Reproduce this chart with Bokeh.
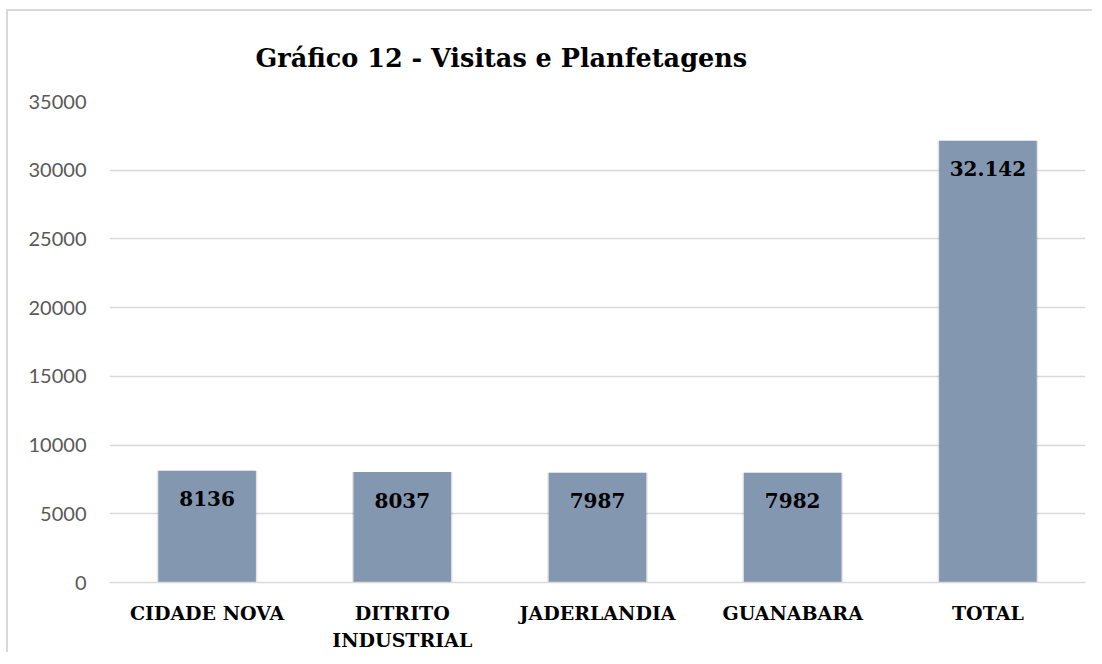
from bokeh.plotting import figure
from bokeh.models import ColumnDataSource, FixedTicker, NumeralTickFormatter, Title
from bokeh.core.properties import value
from bokeh.embed import file_html
from bokeh.resources import INLINE

categories = ["CIDADE NOVA", "DITRITO\nINDUSTRIAL", "JADERLANDIA", "GUANABARA", "TOTAL"]
values = [8136, 8037, 7987, 7982, 32142]
labels = ["8136", "8037", "7987", "7982", "32.142"]
y_ticks = [0, 5000, 10000, 15000, 20000, 25000, 30000, 35000]

src = ColumnDataSource(dict(cat=categories, val=values, lab=labels))

p = figure(x_range=categories, y_range=(0, 35000), width=1086, height=643,
           output_backend="svg", toolbar_location=None,
           min_border_left=101, min_border_right=9, min_border_top=90, min_border_bottom=70)
p.styles = {"border-top": "2px solid #d9d9d9", "border-left": "2px solid #d9d9d9",
            "margin-top": "9px", "margin-left": "6px"}

t = Title(text="Gráfico 12 - Visitas e Planfetagens", align="left", offset=146,
          text_font="DejaVu Serif", text_font_size="25.5px", text_font_style="bold",
          text_color="#000000", standoff=57)
p.add_layout(t, "above")

p.outline_line_color = None
p.background_fill_color = "white"
p.border_fill_color = "white"

# subtle shadow
p.vbar(x="cat", top="val", width=0.515, source=src, fill_color="#000000",
       fill_alpha=0.10, line_color=None)
p.vbar(x="cat", top="val", width=0.5, source=src, fill_color="#8497B0", line_color=None)

p.text(x="cat", y="val", text="lab", source=src, y_offset=28,
       text_align="center", text_baseline="middle",
       text_font=value("DejaVu Serif"), text_font_style="bold",
       text_font_size="20px", text_color="#000000")

p.xgrid.grid_line_color = None
p.ygrid.grid_line_color = "#d9d9d9"
p.ygrid.grid_line_width = 1.5
p.yaxis.ticker = FixedTicker(ticks=y_ticks)
p.yaxis.formatter = NumeralTickFormatter(format="0")
p.yaxis.axis_line_color = None
p.yaxis.major_tick_line_color = None
p.yaxis.minor_tick_line_color = None
p.yaxis.major_label_text_font = "Lato"
p.yaxis.major_label_text_font_size = "20px"
p.yaxis.major_label_text_color = "#595959"
p.yaxis.major_label_standoff = 17

p.xaxis.axis_line_color = "#d9d9d9"
p.xaxis.axis_line_width = 1.5
p.xaxis.major_tick_line_color = None
p.xaxis.minor_tick_line_color = None
p.xaxis.major_label_text_font = "DejaVu Serif"
p.xaxis.major_label_text_font_style = "bold"
p.xaxis.major_label_text_font_size = "19px"
p.xaxis.major_label_text_color = "#000000"
p.xaxis.major_label_standoff = 13
p.xaxis.major_label_text_line_height = 1.25

open("out.html", "w").write(file_html(p, INLINE))
